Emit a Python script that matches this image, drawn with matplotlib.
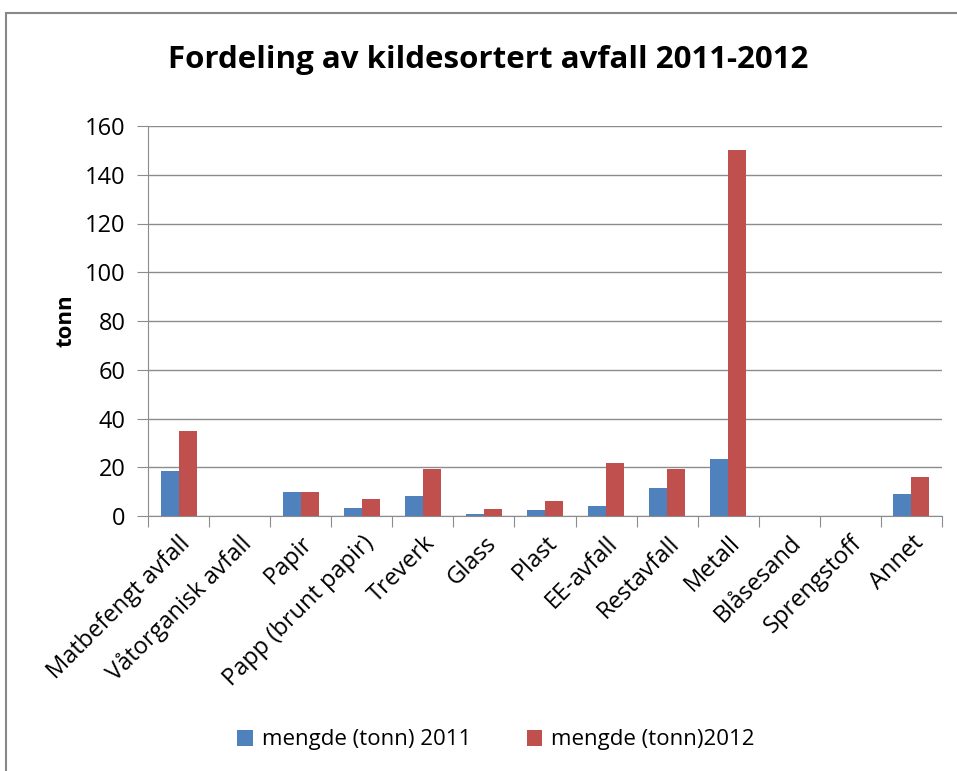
import matplotlib.pyplot as plt
import numpy as np
from matplotlib.patches import Rectangle

# waste fractions
categories = ["Matbefengt avfall", "Våtorganisk avfall", "Papir", "Papp (brunt papir)",
              "Treverk", "Glass", "Plast", "EE-avfall", "Restavfall", "Metall",
              "Blåsesand", "Sprengstoff", "Annet"]
tonn_2011 = [18.6, 0, 9.7, 3.4, 8.1, 0.8, 2.3, 4.0, 11.3, 23.2, 0, 0, 9.2]
tonn_2012 = [34.9, 0, 9.7, 7.1, 19.2, 2.9, 6.0, 21.7, 19.2, 150.0, 0, 0, 16.0]
series_labels = ["mengde (tonn) 2011", "mengde (tonn)2012"]

plt.rcParams["font.family"] = ["Open Sans", "DejaVu Sans"]

fig = plt.figure(figsize=(9.57, 7.71), dpi=100)
ax = fig.add_axes([148 / 957, 1 - 516 / 771, 794 / 957, 390 / 771])

# outer chart border
fig.patches.append(Rectangle((6 / 957, -0.01), 1.0, 1 - 13 / 771 + 0.01,
                             transform=fig.transFigure, fill=False,
                             edgecolor="#888888", linewidth=1.5))

x = np.arange(len(categories))
w = 0.295
ax.bar(x - w / 2, tonn_2011, w, color="#4F81BD", label=series_labels[0])
ax.bar(x + w / 2, tonn_2012, w, color="#C0504D", label=series_labels[1])

ax.set_xlim(-0.5, len(categories) - 0.5)
ax.set_ylim(0, 160)
ax.set_yticks(range(0, 161, 20))
ax.yaxis.grid(True, color="#8c8c8c", linewidth=1)
ax.set_axisbelow(True)

# category ticks at boundaries, labels at centers
ax.set_xticks(np.arange(-0.5, len(categories) + 0.5, 1))
ax.set_xticklabels([])
ax.set_xticks(x, minor=True)
ax.set_xticklabels(categories, minor=True, rotation=45, ha="right",
                   rotation_mode="anchor", fontsize=17)
ax.tick_params(axis="x", which="minor", length=0, pad=11)
ax.tick_params(axis="x", which="major", length=8, color="#8c8c8c")
ax.tick_params(axis="y", length=8, color="#8c8c8c", labelsize=17, pad=8)

for s in ["top", "right"]:
    ax.spines[s].set_visible(False)
for s in ["left", "bottom"]:
    ax.spines[s].set_color("#8c8c8c")

ax.set_ylabel("tonn", fontsize=16, fontweight="bold", labelpad=6)
fig.text(488 / 957, 1 - 60 / 771, "Fordeling av kildesortert avfall 2011-2012",
         ha="center", va="center", fontsize=22.5, fontweight="bold")

fig.legend(loc="center", bbox_to_anchor=(496 / 957, 1 - 740 / 771), ncol=2,
           frameon=False, fontsize=16, handlelength=0.7, handleheight=0.7,
           columnspacing=2.5, handletextpad=0.4)

fig.savefig("out.png", dpi=100)
